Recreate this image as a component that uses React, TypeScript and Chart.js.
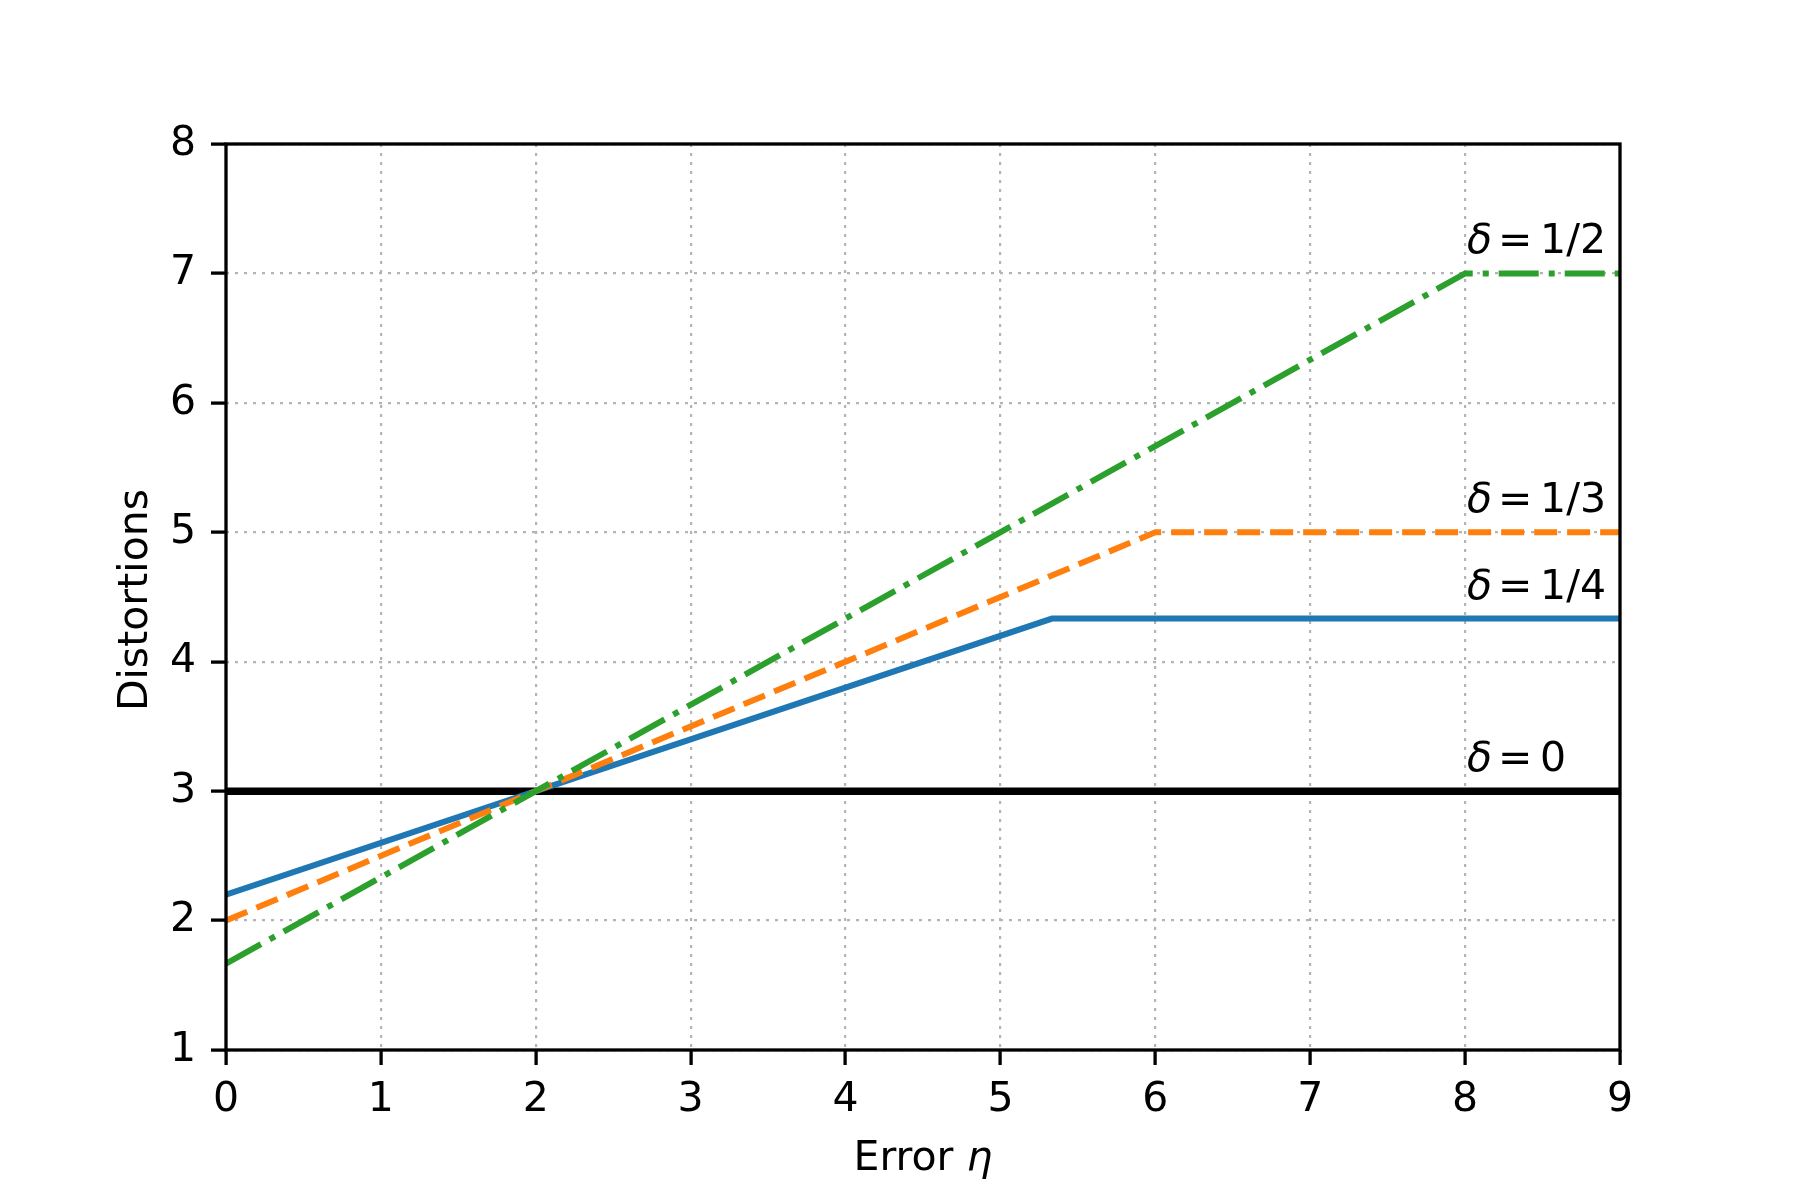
import React, { useEffect, useRef } from "react";
import { Chart, registerables } from "chart.js";

Chart.register(...registerables);

// ---- data ----
const xMin = 0;
const xMax = 9;
const yMin = 1;
const yMax = 8;

const delta0X = [0, 9];
const delta0Y = [3, 3];

const delta14X = [0, 5.333, 9];
const delta14Y = [2.2, 4.333, 4.333];

const delta13X = [0, 6, 9];
const delta13Y = [2, 5, 5];

const delta12X = [0, 8, 9];
const delta12Y = [1.667, 7, 7];

const seriesNames = ["0", "1/4", "1/3", "1/2"];
const labelX = 8;
const labelY = [3, 4.333, 5, 7];

const xTitle = "Error";
const xTitleSymbol = "η";
const yTitle = "Distortions";

const FONT = '"DejaVu Sans", "Liberation Sans", sans-serif';
const FS = 41;

function pts(xs: number[], ys: number[]) {
  return xs.map((x, i) => ({ x, y: ys[i] }));
}

const annotationPlugin = {
  id: "annotations",
  afterDatasetsDraw(chart: any) {
    const { ctx, chartArea, scales } = chart;
    const xs = scales.x;
    const ys = scales.y;
    ctx.save();
    // spines
    ctx.strokeStyle = "#000";
    ctx.lineWidth = 3.3;
    ctx.strokeRect(
      chartArea.left,
      chartArea.top,
      chartArea.right - chartArea.left,
      chartArea.bottom - chartArea.top
    );
    // series labels
    ctx.fillStyle = "#000";
    ctx.textBaseline = "alphabetic";
    ctx.textAlign = "left";
    seriesNames.forEach((name, i) => {
      const px = xs.getPixelForValue(labelX) + 2;
      const py = ys.getPixelForValue(labelY[i]) - 20;
      ctx.font = `italic ${FS}px ${FONT}`;
      ctx.fillText("δ", px, py);
      ctx.font = `${FS}px ${FONT}`;
      ctx.fillText("=", px + 31, py);
      ctx.fillText(name, px + 73, py);
    });
    // x title
    const cx = (chartArea.left + chartArea.right) / 2;
    ctx.font = `${FS}px ${FONT}`;
    const w1 = ctx.measureText(xTitle + " ").width;
    ctx.font = `italic ${FS}px ${FONT}`;
    const w2 = ctx.measureText(xTitleSymbol).width;
    const start = cx - (w1 + w2) / 2;
    ctx.font = `${FS}px ${FONT}`;
    ctx.fillText(xTitle, start, 1170);
    ctx.font = `italic ${FS}px ${FONT}`;
    ctx.fillText(xTitleSymbol, start + w1, 1170);
    // y title
    const cy = (chartArea.top + chartArea.bottom) / 2;
    ctx.translate(147, cy + 3);
    ctx.rotate(-Math.PI / 2);
    ctx.font = `${FS}px ${FONT}`;
    ctx.textAlign = "center";
    ctx.fillText(yTitle, 0, 0);
    ctx.restore();
  },
};

export default function App() {
  const ref = useRef<HTMLCanvasElement | null>(null);

  useEffect(() => {
    document.body.style.margin = "0";
    const canvas = ref.current;
    if (!canvas) return;
    const gridOpts = {
      color: "#b4b4b4",
      lineWidth: 2.2,
      drawTicks: true,
      tickLength: 15,
      tickColor: "#000",
      tickWidth: 3.3,
    };
    const chart = new Chart(canvas, {
      type: "line",
      data: {
        datasets: [
          {
            label: "δ = 0",
            data: pts(delta0X, delta0Y),
            borderColor: "#000000",
            borderWidth: 7.5,
            pointRadius: 0,
            order: 3,
          },
          {
            label: "δ = 1/4",
            data: pts(delta14X, delta14Y),
            borderColor: "#1f77b4",
            borderWidth: 6,
            pointRadius: 0,
            order: 2,
          },
          {
            label: "δ = 1/3",
            data: pts(delta13X, delta13Y),
            borderColor: "#ff7f0e",
            borderWidth: 6,
            borderDash: [23, 10],
            pointRadius: 0,
            order: 1,
          },
          {
            label: "δ = 1/2",
            data: pts(delta12X, delta12Y),
            borderColor: "#2ca02c",
            borderWidth: 6,
            borderDash: [40, 10, 6, 10],
            pointRadius: 0,
            order: 0,
          },
        ],
      },
      options: {
        responsive: false,
        animation: false,
        devicePixelRatio: 1,
        layout: { padding: { left: 0, top: 144, right: 180, bottom: 0 } },
        plugins: {
          legend: { display: false },
          tooltip: { enabled: false },
        },
        scales: {
          x: {
            type: "linear",
            min: xMin,
            max: xMax,
            afterFit: (s: any) => {
              s.height = 150;
            },
            ticks: {
              stepSize: 1,
              color: "#000",
              padding: 11,
              font: { family: FONT, size: FS },
              maxRotation: 0,
            },
            grid: gridOpts,
            border: { display: false, dash: [3, 6] },
          },
          y: {
            type: "linear",
            min: yMin,
            max: yMax,
            afterFit: (s: any) => {
              s.width = 226;
            },
            ticks: {
              stepSize: 1,
              color: "#000",
              padding: 15,
              font: { family: FONT, size: FS },
            },
            grid: gridOpts,
            border: { display: false, dash: [3, 6] },
          },
        },
      },
      plugins: [annotationPlugin],
    } as any);
    return () => chart.destroy();
  }, []);

  return (
    <div style={{ width: 1800, height: 1200, background: "#fff" }}>
      <canvas ref={ref} width={1800} height={1200} />
    </div>
  );
}
